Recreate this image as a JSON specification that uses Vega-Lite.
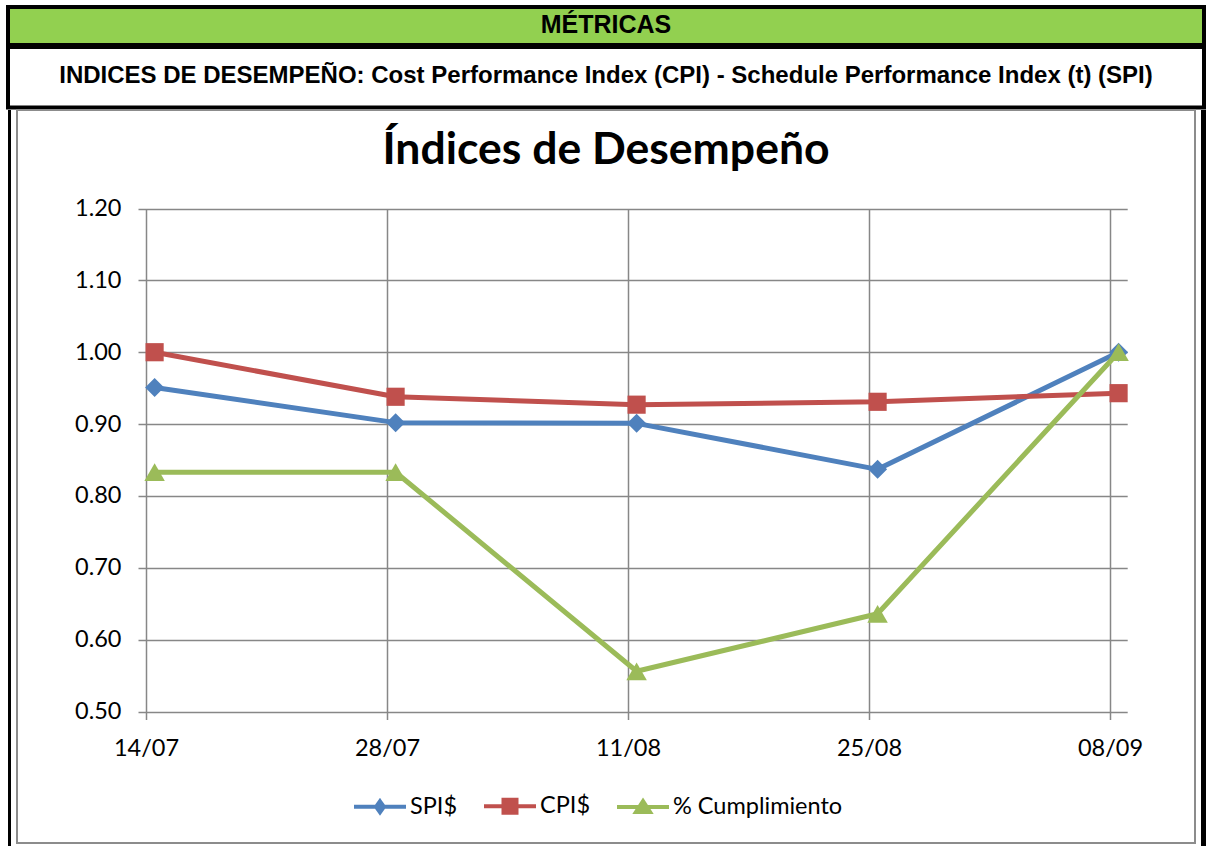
{
  "$schema": "https://vega.github.io/schema/vega-lite/v6.json",
  "background": "white",
  "padding": {"left": 6, "top": 5, "right": 0, "bottom": 0},
  "config": {"view": {"stroke": null}, "font": "Lato"},
  "spacing": -4,
  "vconcat": [
    {
      "spacing": -4,
      "vconcat": [
        {
          "width": 1196,
          "height": 38,
          "view": {"fill": "#92D050", "stroke": "black", "strokeWidth": 4},
          "data": {"values": [{"t": "MÉTRICAS"}]},
          "mark": {"type": "text", "font": "Liberation Sans", "fontWeight": "bold", "fontSize": 25, "color": "black", "dy": -1},
          "encoding": {"text": {"field": "t"}}
        },
        {
          "width": 1196,
          "height": 60.5,
          "view": {"fill": "white", "stroke": "black", "strokeWidth": 4},
          "data": {"values": [{"t": "INDICES DE DESEMPEÑO: Cost Performance Index (CPI) - Schedule Performance Index (t) (SPI)"}]},
          "mark": {"type": "text", "font": "Liberation Sans", "fontWeight": "bold", "fontSize": 24, "color": "black", "dy": -1.5},
          "encoding": {"text": {"field": "t"}}
        }
      ]
    },
    {
      "spacing": 6,
      "bounds": "flush",
      "hconcat": [
        {
          "width": 3,
          "height": 740,
          "data": {"values": []},
          "mark": "point",
          "view": {"fill": "black", "stroke": null}
        },
        {
          "width": 1178,
          "height": 733,
          "view": {"fill": "white", "stroke": "#8c8c8c", "strokeWidth": 2},
          "title": {"text": "Índices de Desempeño", "font": "Lato", "fontSize": 44.5, "fontWeight": "bold", "color": "black", "anchor": "middle", "baseline": "alphabetic", "offset": -98},
          "data": {
            "values": [
              {"fecha": "2013-07-14T12:00:00", "serie": "SPI$", "valor": 0.951},
              {"fecha": "2013-07-28T12:00:00", "serie": "SPI$", "valor": 0.902},
              {"fecha": "2013-08-11T12:00:00", "serie": "SPI$", "valor": 0.901},
              {"fecha": "2013-08-25T12:00:00", "serie": "SPI$", "valor": 0.837},
              {"fecha": "2013-09-08T12:00:00", "serie": "SPI$", "valor": 1.0},
              {"fecha": "2013-07-14T12:00:00", "serie": "CPI$", "valor": 1.0},
              {"fecha": "2013-07-28T12:00:00", "serie": "CPI$", "valor": 0.938},
              {"fecha": "2013-08-11T12:00:00", "serie": "CPI$", "valor": 0.927},
              {"fecha": "2013-08-25T12:00:00", "serie": "CPI$", "valor": 0.931},
              {"fecha": "2013-09-08T12:00:00", "serie": "CPI$", "valor": 0.943},
              {"fecha": "2013-07-14T12:00:00", "serie": "% Cumplimiento", "valor": 0.833},
              {"fecha": "2013-07-28T12:00:00", "serie": "% Cumplimiento", "valor": 0.833},
              {"fecha": "2013-08-11T12:00:00", "serie": "% Cumplimiento", "valor": 0.556},
              {"fecha": "2013-08-25T12:00:00", "serie": "% Cumplimiento", "valor": 0.636},
              {"fecha": "2013-09-08T12:00:00", "serie": "% Cumplimiento", "valor": 1.0}
            ]
          },
          "encoding": {
            "y": {
              "field": "valor",
              "type": "quantitative",
              "scale": {"domain": [0.5, 1.2], "range": [601.5, 98.5], "zero": false, "nice": false},
              "axis": {
                "orient": "left",
                "offset": -129,
                "values": [0.5, 0.6, 0.7, 0.8, 0.9, 1.0, 1.1, 1.2],
                "format": ".2f",
                "title": null,
                "grid": true,
                "gridColor": "#878787",
                "gridWidth": 1.5,
                "domain": false,
                "ticks": true,
                "tickColor": "#878787",
                "tickWidth": 1.5,
                "tickSize": 8,
                "labelFont": "Lato",
                "labelFontSize": 23.5,
                "labelColor": "black",
                "labelPadding": 17,
                "labelFlush": false,
                "labelOverlap": false
              }
            },
            "color": {
              "field": "serie",
              "type": "nominal",
              "scale": {"domain": ["SPI$", "CPI$", "% Cumplimiento"], "range": ["#4F81BD", "#C0504D", "#9BBB59"]},
              "legend": {
                "orient": "none",
                "legendX": 344,
                "legendY": 771,
                "direction": "horizontal",
                "title": null,
                "padding": 0,
                "symbolSize": 2704,
                "symbolStrokeWidth": 4,
                "labelFont": "Lato",
                "labelFontSize": 23.5,
                "labelColor": "black",
                "labelOffset": 2,
                "labelLimit": 400,
                "columnPadding": 18,
                "encode": {
                  "symbols": {
                    "update": {
                      "shape": {"signal": "datum.value === 'SPI$' ? 'M-1,0H1M0,-0.21L0.15,0L0,0.21L-0.15,0Z' : datum.value === 'CPI$' ? 'M-1,0H1M-0.25,-0.25H0.25V0.25H-0.25Z' : 'M-1,0H1M0,-0.22L0.27,0.2H-0.27Z'"},
                      "size": {"value": 2704},
                      "fill": {"signal": "datum.value === 'SPI$' ? '#4F81BD' : datum.value === 'CPI$' ? '#C0504D' : '#9BBB59'"},
                      "stroke": {"signal": "datum.value === 'SPI$' ? '#4F81BD' : datum.value === 'CPI$' ? '#C0504D' : '#9BBB59'"},
                      "strokeWidth": {"value": 4},
                      "opacity": {"value": 1}
                    }
                  }
                }
              }
            }
          },
          "layer": [
            {
              "mark": {"type": "line", "strokeWidth": 5, "strokeJoin": "round", "strokeCap": "round"},
              "encoding": {
                "x": {
                  "field": "fecha",
                  "type": "temporal",
                  "scale": {
                    "domain": [{"year": 2013, "month": 7, "date": 14}, {"year": 2013, "month": 9, "date": 9}],
                    "range": [129, 1110.2]
                  },
                  "axis": {
                    "orient": "bottom",
                    "offset": -131.5,
                    "values": [
                      {"year": 2013, "month": 7, "date": 14},
                      {"year": 2013, "month": 7, "date": 28},
                      {"year": 2013, "month": 8, "date": 11},
                      {"year": 2013, "month": 8, "date": 25},
                      {"year": 2013, "month": 9, "date": 8}
                    ],
                    "format": "%d/%m",
                    "formatType": "time",
                    "title": null,
                    "grid": false,
                    "domain": false,
                    "ticks": true,
                    "tickColor": "#878787",
                    "tickWidth": 1.5,
                    "tickSize": 8,
                    "labelFont": "Lato",
                    "labelFontSize": 23.5,
                    "labelColor": "black",
                    "labelPadding": 16.5,
                    "labelFlush": false,
                    "labelOverlap": false
                  }
                }
              }
            },
            {
              "transform": [{"filter": "datum.serie === 'SPI$'"}],
              "mark": {"type": "point", "shape": "diamond", "size": 361, "filled": true, "opacity": 1},
              "encoding": {
                "x": {
                  "field": "fecha",
                  "type": "temporal",
                  "scale": {
                    "domain": [{"year": 2013, "month": 7, "date": 14}, {"year": 2013, "month": 9, "date": 9}],
                    "range": [129, 1110.2]
                  },
                  "axis": {
                    "orient": "top",
                    "offset": -98.5,
                    "values": [
                      {"year": 2013, "month": 7, "date": 14},
                      {"year": 2013, "month": 7, "date": 28},
                      {"year": 2013, "month": 8, "date": 11},
                      {"year": 2013, "month": 8, "date": 25},
                      {"year": 2013, "month": 9, "date": 8}
                    ],
                    "title": null,
                    "grid": true,
                    "gridColor": "#878787",
                    "gridWidth": 1.5,
                    "domain": false,
                    "ticks": false,
                    "labels": false
                  }
                }
              }
            },
            {
              "transform": [{"filter": "datum.serie === 'CPI$'"}],
              "mark": {"type": "point", "shape": "square", "size": 330, "filled": true, "opacity": 1},
              "encoding": {
                "x": {
                  "field": "fecha",
                  "type": "temporal",
                  "scale": {
                    "domain": [{"year": 2013, "month": 7, "date": 14}, {"year": 2013, "month": 9, "date": 9}],
                    "range": [129, 1110.2]
                  },
                  "axis": null
                }
              }
            },
            {
              "transform": [{"filter": "datum.serie === '% Cumplimiento'"}],
              "mark": {"type": "point", "shape": "triangle-up", "size": 420, "filled": true, "opacity": 1},
              "encoding": {
                "x": {
                  "field": "fecha",
                  "type": "temporal",
                  "scale": {
                    "domain": [{"year": 2013, "month": 7, "date": 14}, {"year": 2013, "month": 9, "date": 9}],
                    "range": [129, 1110.2]
                  },
                  "axis": null
                }
              }
            }
          ],
          "resolve": {"axis": {"x": "independent"}}
        },
        {
          "width": 5,
          "height": 740,
          "data": {"values": []},
          "mark": "point",
          "view": {"fill": "black", "stroke": null}
        }
      ]
    }
  ]
}
